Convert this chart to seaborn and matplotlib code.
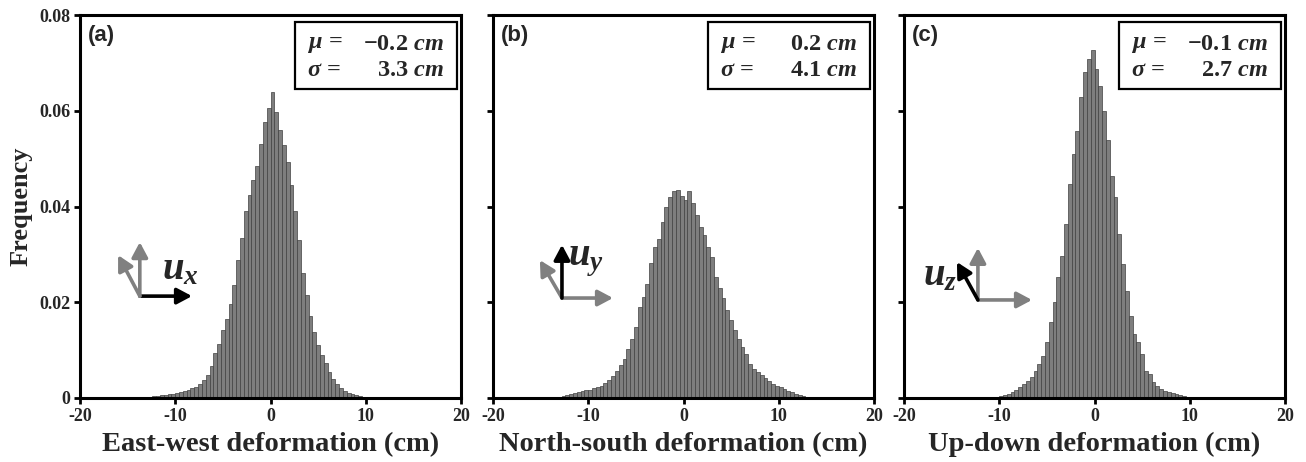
import numpy as np
import pandas as pd
import matplotlib
matplotlib.use('Agg')
import matplotlib.pyplot as plt
import seaborn as sns
from matplotlib.patches import Rectangle

# histogram bins are 0.4 cm wide; first_* is the index of the first bin (left edge = index * width)
BIN_W = 0.4

ew_first = -39
ew_freq = [0.00003, 0.00005, 0.00008, 0.0001, 0.00015, 0.0002, 0.00025, 0.0003, 0.0004, 0.0005,
           0.0006, 0.0007, 0.0008, 0.0009, 0.0011, 0.0013, 0.0015, 0.0017, 0.0020, 0.0024,
           0.0029, 0.0037, 0.0047, 0.0066, 0.0094, 0.0112, 0.0141, 0.0165, 0.0197, 0.0235,
           0.0288, 0.0335, 0.0390, 0.0423, 0.0455, 0.0485, 0.0530, 0.0577, 0.0605, 0.0640,
           0.0598, 0.0560, 0.0528, 0.0492, 0.0445, 0.0390, 0.0330, 0.0262, 0.0215, 0.0172,
           0.0137, 0.0110, 0.0090, 0.0074, 0.0055, 0.0040, 0.0029, 0.0021, 0.0015, 0.0011,
           0.0008, 0.0006, 0.0004, 0.0003, 0.0002, 0.0001]

ns_first = -35
ns_freq = [0.0001, 0.0002, 0.0003, 0.0004, 0.0006, 0.0008, 0.0010, 0.0012, 0.0014, 0.0016,
           0.0017, 0.0020, 0.0023, 0.0026, 0.0031, 0.0037, 0.0045, 0.0056, 0.0068, 0.0082,
           0.0103, 0.0124, 0.0148, 0.0190, 0.0211, 0.0239, 0.0281, 0.0316, 0.0333, 0.0368,
           0.0398, 0.0420, 0.0432, 0.0434, 0.0422, 0.0413, 0.0433, 0.0407, 0.0382, 0.0358,
           0.0340, 0.0316, 0.0295, 0.0253, 0.0229, 0.0208, 0.0183, 0.0162, 0.0142, 0.0124,
           0.0107, 0.0091, 0.0072, 0.0061, 0.0054, 0.0047, 0.0042, 0.0036, 0.0030, 0.0026,
           0.0022, 0.0018, 0.0015, 0.0012, 0.0009, 0.0006, 0.0004, 0.0002]

ud_first = -28
ud_freq = [0.0001, 0.0002, 0.0003, 0.0005, 0.0007, 0.0009, 0.0013, 0.0017, 0.0022, 0.0029,
           0.0036, 0.0043, 0.0057, 0.0071, 0.0088, 0.0116, 0.0158, 0.0200, 0.0252, 0.0297,
           0.0363, 0.0447, 0.0510, 0.0558, 0.0628, 0.0680, 0.0708, 0.0726, 0.0687, 0.0652,
           0.0600, 0.0538, 0.0464, 0.0419, 0.0343, 0.0280, 0.0224, 0.0172, 0.0134, 0.0116,
           0.0092, 0.0057, 0.0050, 0.0033, 0.0026, 0.0019, 0.0015, 0.0012, 0.0010, 0.0008,
           0.0006, 0.0004, 0.0003, 0.0002]

panel_tags = ['(a)', '(b)', '(c)']
x_labels = ['East-west deformation (cm)', 'North-south deformation (cm)', 'Up-down deformation (cm)']
mu_text = ['-0.2', '0.2', '-0.1']
sigma_text = ['3.3', '4.1', '2.7']
comp_labels = [r'$u_x$', r'$u_y$', r'$u_z$']
x_ticks = [-20, -10, 0, 10, 20]
y_ticks = [0, 0.02, 0.04, 0.06, 0.08]
y_tick_labels = ['0', '0.02', '0.04', '0.06', '0.08']

sns.set_style('ticks')
plt.rcParams['font.family'] = ['Liberation Serif', 'DejaVu Serif']
plt.rcParams['font.weight'] = 'bold'
plt.rcParams['axes.unicode_minus'] = False
plt.rcParams['mathtext.fontset'] = 'custom'
plt.rcParams['mathtext.rm'] = 'Liberation Serif:bold'
plt.rcParams['mathtext.it'] = 'Liberation Serif:italic:bold'
plt.rcParams['mathtext.bf'] = 'Liberation Serif:bold'

BAR = '#7e7e7e'
EDGE = '#404040'
GREY = '#808080'

fig = plt.figure(figsize=(13.06, 4.62), dpi=100)
W, H = 1306, 462
lefts = [80, 493, 904]
axes = [fig.add_axes([l / W, 1 - 398 / H, 381 / W, 383 / H]) for l in lefts]


def arrow(ax, start, end, color):
    ax.annotate('', xy=end, xytext=start, xycoords='axes fraction', textcoords='axes fraction',
                arrowprops=dict(arrowstyle='-|>,head_length=0.6,head_width=0.32', lw=2.6,
                                color=color, shrinkA=0, shrinkB=0, mutation_scale=15))


data = [(ew_first, ew_freq), (ns_first, ns_freq), (ud_first, ud_freq)]
for i, (ax, (first, freq)) in enumerate(zip(axes, data)):
    edges = [round((first + k) * BIN_W, 2) for k in range(len(freq) + 1)]
    df = pd.DataFrame({'dx': [e + BIN_W / 2 for e in edges[:-1]], 'freq': freq})
    sns.histplot(data=df, x='dx', weights='freq', bins=edges, ax=ax, color=BAR,
                 edgecolor=EDGE, linewidth=0.5, alpha=1)

    ax.set_xlim(-20, 20)
    ax.set_ylim(0, 0.08)
    ax.set_xticks(x_ticks)
    ax.set_xticklabels([str(t) for t in x_ticks])
    ax.set_yticks(y_ticks)
    if i == 0:
        ax.set_yticklabels(y_tick_labels)
        ax.set_ylabel('Frequency', fontsize=19, fontweight='bold')
        ax.yaxis.set_label_coords(-0.125, 0.5)
    else:
        ax.set_yticklabels([])
        ax.set_ylabel('')
    ax.set_xlabel(x_labels[i], fontsize=20.5, fontweight='bold', labelpad=5)
    ax.tick_params(direction='out', length=4, width=2, labelsize=13, pad=3, color='black')
    for s in ax.spines.values():
        s.set_visible(True)
        s.set_linewidth(2.2)
        s.set_color('black')

    ax.text(0.021, 0.975, panel_tags[i], transform=ax.transAxes, family='Liberation Sans',
            fontweight='bold', fontsize=16, va='top', ha='left')

    # statistics box
    ax.add_patch(Rectangle((0.564, 0.807), 0.425, 0.175, transform=ax.transAxes,
                           fill=False, lw=1.6, edgecolor='black', zorder=5))
    ax.text(0.595, 0.922, r'$\mu\,=$', transform=ax.transAxes, fontsize=17.5, va='center', ha='left')
    ax.text(0.595, 0.856, r'$\sigma\,=$', transform=ax.transAxes, fontsize=17.5, va='center', ha='left')
    ax.text(0.955, 0.922, r'$%s\ cm$' % mu_text[i], transform=ax.transAxes, fontsize=17.5,
            va='center', ha='right')
    ax.text(0.955, 0.856, r'$%s\ cm$' % sigma_text[i], transform=ax.transAxes, fontsize=17.5,
            va='center', ha='right')

# component arrows (black = plotted component)
a, b, c = axes
arrow(a, (0.157, 0.266), (0.294, 0.266), 'black')
arrow(a, (0.157, 0.266), (0.157, 0.407), GREY)
arrow(a, (0.157, 0.266), (0.10, 0.373), GREY)
a.text(0.215, 0.335, comp_labels[0], transform=a.transAxes, fontsize=28, va='center', ha='left')

arrow(b, (0.181, 0.261), (0.315, 0.261), GREY)
arrow(b, (0.181, 0.261), (0.123, 0.36), GREY)
arrow(b, (0.181, 0.261), (0.181, 0.40), 'black')
b.text(0.198, 0.36, comp_labels[1], transform=b.transAxes, fontsize=28, va='center', ha='left')

arrow(c, (0.194, 0.256), (0.336, 0.256), GREY)
arrow(c, (0.194, 0.256), (0.194, 0.392), GREY)
arrow(c, (0.194, 0.256), (0.139, 0.355), 'black')
c.text(0.14, 0.32, comp_labels[2], transform=c.transAxes, fontsize=28, va='center', ha='right')

fig.savefig('out.png', dpi=100)
